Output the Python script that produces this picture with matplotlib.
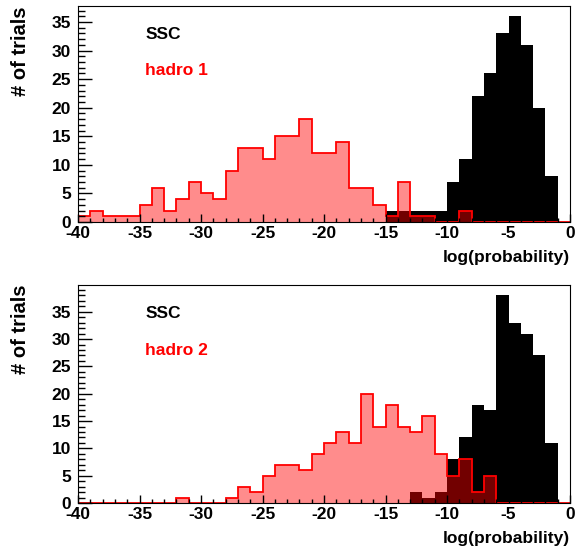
import numpy as np
import matplotlib.pyplot as plt
from matplotlib.ticker import MultipleLocator

plt.rcParams['font.family'] = ['Liberation Sans', 'DejaVu Sans']
plt.rcParams['font.weight'] = 'bold'
plt.rcParams['axes.unicode_minus'] = False

# bin edges: log(probability) from -40 to 0, width 1
edges = np.arange(-40, 1, 1)

# panel 1 (bins from -40 upwards)
ssc_1 = [0, 0, 0, 0, 0, 0, 0, 0, 0, 0,
         0, 0, 0, 0, 0, 0, 0, 0, 0, 0,
         0, 0, 0, 0, 0, 2, 2, 2, 2, 2,
         7, 11, 22, 26, 33, 36, 31, 20, 8, 0]
hadro_1 = [1, 2, 1, 1, 1, 3, 6, 2, 4, 7,
           5, 4, 9, 13, 13, 11, 15, 15, 18, 12,
           12, 14, 6, 6, 3, 1, 7, 1, 1, 0,
           0, 2, 0, 0, 0, 0, 0, 0, 0, 0]

# panel 2
ssc_2 = [0, 0, 0, 0, 0, 0, 0, 0, 0, 0,
         0, 0, 0, 0, 0, 0, 0, 0, 0, 0,
         0, 0, 0, 0, 0, 0, 0, 2, 1, 2,
         8, 12, 18, 17, 38, 33, 31, 27, 11, 0]
hadro_2 = [0, 0, 0, 0, 0, 0, 0, 0, 1, 0,
           0, 0, 1, 3, 2, 5, 7, 7, 6, 9,
           11, 13, 11, 20, 14, 18, 14, 13, 16, 9,
           5, 8, 2, 5, 0, 0, 0, 0, 0, 0]

panels = [
    (ssc_1, hadro_1, 'hadro 1', [0.1336, 0.595, 0.8425, 0.394]),
    (ssc_2, hadro_2, 'hadro 2', [0.1336, 0.082, 0.8425, 0.398]),
]

fig = plt.figure(figsize=(5.84, 5.48), dpi=100)

for ssc, hadro, name, rect in panels:
    ax = fig.add_axes(rect)
    ax.stairs(ssc, edges, fill=True, color='black')
    ax.stairs(hadro, edges, fill=True, facecolor=(1, 0, 0, 0.45), edgecolor='none')
    ax.stairs(hadro, edges, baseline=0, color='red', linewidth=1.3)

    ax.set_xlim(-40, 0)
    ax.set_ylim(0, max(max(ssc), max(hadro)) * 1.05)

    ax.xaxis.set_major_locator(MultipleLocator(5))
    ax.xaxis.set_minor_locator(MultipleLocator(1))
    ax.yaxis.set_major_locator(MultipleLocator(5))
    ax.yaxis.set_minor_locator(MultipleLocator(1))
    ax.tick_params(axis='y', which='major', direction='in', length=10, width=1, pad=5, labelsize=12.5)
    ax.tick_params(axis='y', which='minor', direction='in', length=5, width=1)
    ax.tick_params(axis='x', which='major', direction='in', length=6, width=1, pad=3, labelsize=12.5)
    ax.tick_params(axis='x', which='minor', direction='in', length=3, width=1)
    for lab in ax.get_xticklabels() + ax.get_yticklabels():
        lab.set_fontweight('bold')

    ax.set_ylabel('# of trials', fontsize=14.5, fontweight='bold')
    ax.yaxis.set_label_coords(-0.098, 1.0)
    ax.yaxis.label.set_horizontalalignment('right')
    ax.set_xlabel('log(probability)', fontsize=12.5, fontweight='bold')
    ax.xaxis.set_label_coords(1.0, -0.13)
    ax.xaxis.label.set_horizontalalignment('right')

    ax.text(0.137, 0.87, 'SSC', transform=ax.transAxes, fontsize=12.5,
            fontweight='bold', color='black', va='center')
    ax.text(0.137, 0.70, name, transform=ax.transAxes, fontsize=12.5,
            fontweight='bold', color='red', va='center')

fig.savefig('out.png', dpi=100)
